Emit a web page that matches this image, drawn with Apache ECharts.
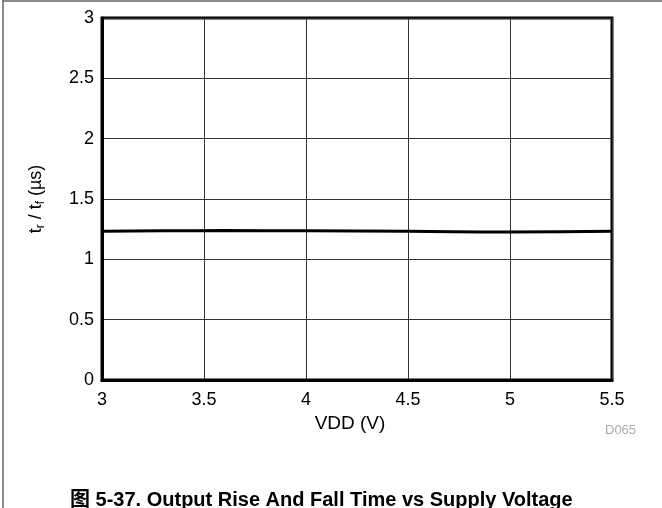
<!DOCTYPE html>
<html>
<head>
<meta charset="utf-8">
<script src="https://cdn.jsdelivr.net/npm/echarts@6/dist/echarts.min.js"></script>
<style>
  html, body { margin: 0; padding: 0; background: #fff; }
  #chart { width: 662px; height: 508px; }
</style>
</head>
<body>
<div id="chart"></div>
<script>
// Supply voltage (V) and measured rise/fall time (µs)
var vdd = [3.0, 3.3, 3.6, 4.0, 4.5, 5.0, 5.5];
var riseFall = [1.232, 1.236, 1.238, 1.236, 1.232, 1.226, 1.232];
var xTicks = [3, 3.5, 4, 4.5, 5, 5.5];
var yTicks = [0, 0.5, 1, 1.5, 2, 2.5, 3];

var FONT = '"Liberation Sans", Arial, sans-serif';
var chart = echarts.init(document.getElementById('chart'), null, { renderer: 'canvas' });

var points = vdd.map(function (v, i) { return [v, riseFall[i]]; });

chart.setOption({
  animation: false,
  backgroundColor: '#fff',
  grid: { left: 102, right: 50, top: 18, bottom: 128, show: true, borderColor: '#000', borderWidth: 3, backgroundColor: 'transparent' },
  xAxis: {
    type: 'value',
    min: xTicks[0], max: xTicks[xTicks.length - 1], interval: 0.5,
    name: 'VDD (V)', nameLocation: 'middle', nameGap: 32,
    nameTextStyle: { color: '#000', fontSize: 19, fontFamily: FONT, padding: [0, 14, 0, 0] },
    axisLine: { show: true, lineStyle: { color: '#000', width: 3 } },
    axisTick: { show: false },
    axisLabel: { color: '#000', fontSize: 18, fontFamily: FONT, margin: 11 },
    splitLine: { show: true, lineStyle: { color: '#333', width: 1 } }
  },
  yAxis: {
    type: 'value',
    min: yTicks[0], max: yTicks[yTicks.length - 1], interval: 0.5,
    name: '{a|t}{s|r}{a| / t}{s|f}{a| (µs)}', nameLocation: 'middle', nameGap: 55,
    nameTextStyle: {
      rich: {
        a: { color: '#000', fontSize: 18, fontFamily: FONT },
        s: { color: '#000', fontSize: 12, fontFamily: FONT, verticalAlign: 'bottom', padding: [9, 0, 0, 0] }
      }
    },
    axisLine: { show: true, lineStyle: { color: '#000', width: 3 } },
    axisTick: { show: false },
    axisLabel: { color: '#000', fontSize: 18, fontFamily: FONT, margin: 8, padding: [4, 0, 0, 0] },
    splitLine: { show: true, lineStyle: { color: '#333', width: 1 } }
  },
  series: [{
    type: 'line',
    data: points,
    showSymbol: false,
    smooth: true,
    lineStyle: { color: '#000', width: 3 }
  }],
  graphic: [
    { type: 'line', shape: { x1: 3, y1: 0, x2: 3, y2: 508 }, style: { stroke: '#666', lineWidth: 1.5 } },
    { type: 'line', shape: { x1: 3, y1: 1, x2: 662, y2: 1 }, style: { stroke: '#666', lineWidth: 1.5 } },
    { type: 'text', left: 605, top: 424, style: { text: 'D065', fill: '#aaa', fontSize: 13, fontFamily: FONT } },
    { type: 'text', left: 70, top: 490, style: { text: '图 5-37. Output Rise And Fall Time vs Supply Voltage', fill: '#000', fontSize: 20, fontWeight: 'bold', fontFamily: '"Liberation Sans", "Noto Sans CJK SC", sans-serif' } }
  ]
});
</script>
</body>
</html>
